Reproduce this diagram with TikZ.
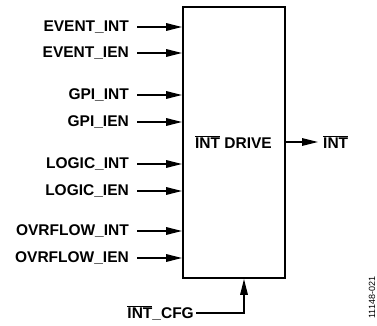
\documentclass[tikz,border=0pt]{standalone}
\usepackage{fontspec}
\setmainfont{Liberation Sans}
\usetikzlibrary{arrows.meta}
\newcommand\ovl[1]{$\overline{\hbox{#1}}$}
\begin{document}
\begin{tikzpicture}[x=1pt,y=-1pt,
  lbl/.style={font=\bfseries\fontsize{15.5}{17}\selectfont, inner sep=0pt},
  inlbl/.style={lbl, anchor=east},
  sig/.style={line width=1.6pt, -{Triangle[length=16pt,width=7.5pt]}},
  blk/.style={draw, line width=1.8pt, minimum width=102pt, minimum height=271pt, inner sep=0pt}]
\useasboundingbox (0,0) rectangle (377,326);
\node[blk] (drive) at (234,142.5) {};
\node[lbl] (dlbl) at (233.5,142) {\ovl{INT} DRIVE};
\foreach \n/\t/\y in {a/EVENT\_INT/27, b/EVENT\_IEN/53, c/GPI\_INT/95, d/GPI\_IEN/122,
                      e/LOGIC\_INT/164, f/LOGIC\_IEN/191, g/OVRFLOW\_INT/231, h/OVRFLOW\_IEN/258}{
  \node[inlbl] (\n) at (129,\y) {\t};
  \coordinate (\n s) at (137,\y);
  \draw[sig] (\n s) -- (\n s -| drive.west);
}
\coordinate (oe) at (318,142);
\draw[sig] (drive.east |- oe) -- (oe);
\node[lbl, anchor=west] (out) at (323,142) {\ovl{INT}};
\node[lbl, anchor=east] (cfg) at (194,313) {\ovl{INT}\_CFG};
\coordinate (cs) at (196,313);
\coordinate (cc) at (244,313);
\draw[sig] (cs) -- (cc) -- (cc |- drive.south);
\node[font=\fontsize{9}{10}\selectfont, rotate=90, inner sep=0pt] (id) at (372,297.5) {11148-021};
\end{tikzpicture}
\end{document}
